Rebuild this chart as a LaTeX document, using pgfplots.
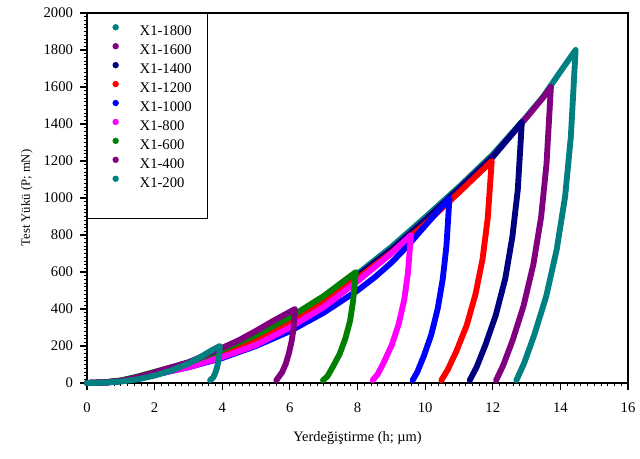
\documentclass[border=0pt]{standalone}
\usepackage{fontspec}
\setmainfont{Liberation Serif}
\usepackage{pgfplots}
\pgfplotsset{compat=1.18}
\definecolor{cTeal}{HTML}{008080}
\definecolor{cPurple}{HTML}{800080}
\definecolor{cNavy}{HTML}{000080}
\definecolor{cRed}{HTML}{FF0000}
\definecolor{cBlue}{HTML}{0000FF}
\definecolor{cMagenta}{HTML}{FF00FF}
\definecolor{cGreen}{HTML}{008000}

\begin{document}
\begin{tikzpicture}
\path[use as bounding box] (-65.25pt,-56.25pt) rectangle (414.75pt,287.25pt);
\begin{axis}[
  scale only axis,width=405.75pt,height=277.5pt,
  at={(0,0)},anchor=south west,
  xmin=0,xmax=16,ymin=0,ymax=2000,
  axis x line*=bottom,axis y line*=left,
  xtick={0,2,...,16},ytick={0,200,...,2000},
  minor x tick num=9,minor y tick num=9,
  tick align=outside,
  major tick length=5pt,minor tick length=2.5pt,
  major tick style={black,line width=0.8pt},
  minor tick style={black,line width=0.6pt},
  axis line style={line width=0.9pt},
  after end axis/.code={\draw[line width=0.9pt] (rel axis cs:0,1) -- (rel axis cs:1,1) -- (rel axis cs:1,0);},
  /pgf/number format/assume math mode=true,
  /pgf/number format/set thousands separator={},
  tick label style={font=\fontsize{11}{12}\selectfont},
  xticklabel style={yshift=-6.5pt},
  yticklabel style={xshift=-2pt},
  xlabel={Yerdeğiştirme (h; µm)},
  ylabel={Test Yükü (P; mN)},
  xlabel style={font=\fontsize{10.8}{12}\selectfont,at={(axis description cs:0.5,-0.149)},anchor=center},
  ylabel style={font=\fontsize{9.5}{11}\selectfont,at={(axis description cs:-0.111,0.5)},anchor=center},
  clip=false,
  every axis plot/.append style={line width=4.4pt,line cap=round,line join=round,mark=none},
  legend cell align=left,
  legend image code/.code={\path (0pt,0pt); \fill[#1,draw=none] (7pt,3.4pt) circle (2.4pt);},
  legend style={at={(0,1)},anchor=north west,draw=black,line width=0.6pt,
    font=\fontsize{11}{12}\selectfont,
    inner xsep=12pt,inner ysep=8pt,column sep=15.6pt,row sep=3.4pt,
    nodes={inner sep=0pt,text height=8pt,text depth=2pt}},
]
\addplot[cTeal] coordinates {
(0,0) (0.5,2) (1,10) (1.5,26) (2,50) (3,105) (4,172) (5,250) (6,342) (7,455)
(8,590) (9,735) (10,895) (11,1060) (12,1235) (13,1440) (13.5,1550) (14,1683) (14.45,1800)
(14.31,1332) (14.14,1008) (13.89,720) (13.58,468) (13.23,261) (12.93,108) (12.70,15)};
\addlegendentry{X1-1800}
\addplot[cPurple] coordinates {
(0,0) (0.5,3) (1,12) (1.5,30) (2,55) (3,110) (4,175) (5,250) (6,340) (7,450)
(8,580) (9,720) (10,880) (11,1050) (12,1225) (13,1435) (13.5,1545) (13.72,1600)
(13.59,1184) (13.43,896) (13.20,640) (12.91,416) (12.59,232) (12.31,96) (12.10,15)};
\addlegendentry{X1-1600}
\addplot[cNavy] coordinates {
(0,0) (0.5,3) (1,12) (1.5,30) (2,55) (3,110) (4,175) (5,250) (6,340) (7,450)
(8,580) (9,720) (10,880) (11,1050) (12,1222) (12.5,1330) (12.86,1410)
(12.74,1043) (12.58,790) (12.37,564) (12.09,367) (11.78,204) (11.52,85) (11.32,15)};
\addlegendentry{X1-1400}
\addplot[cRed] coordinates {
(0,0) (0.5,2) (1,10) (1.5,26) (2,50) (3,100) (4,165) (5,240) (6,330) (7,440)
(8,565) (9,705) (10,860) (11,1030) (11.97,1200)
(11.85,888) (11.70,672) (11.49,480) (11.23,312) (10.93,174) (10.67,72) (10.48,15)};
\addlegendentry{X1-1200}
\addplot[cBlue] coordinates {
(0,0) (0.5,2) (1,10) (1.5,24) (2,45) (3,85) (4,135) (5,200) (6,280) (7,380)
(8,500) (8.5,570) (9,650) (9.5,745) (10,850) (10.72,1000)
(10.63,740) (10.52,560) (10.37,400) (10.18,260) (9.96,145) (9.77,60) (9.63,15)};
\addlegendentry{X1-1000}
\addplot[cMagenta] coordinates {
(0,0) (0.5,2) (1,10) (1.5,25) (2,45) (3,85) (4,140) (5,205) (6,300) (7,410)
(8,550) (9,700) (9.58,800)
(9.49,592) (9.38,448) (9.22,320) (9.02,208) (8.79,116) (8.60,48) (8.45,15)};
\addlegendentry{X1-800}
\addplot[cGreen] coordinates {
(0,0) (0.5,3) (1,14) (1.5,35) (2,60) (3,110) (4,180) (5,260) (6,355) (7,470) (7.95,600)
(7.87,444) (7.78,336) (7.64,240) (7.47,156) (7.27,87) (7.11,36) (6.98,15)};
\addlegendentry{X1-600}
\addplot[cPurple] coordinates {
(0,0) (0.5,3) (1,12) (1.5,32) (2,58) (3,112) (4,190) (4.5,232) (5,282) (5.5,335) (6.15,400)
(6.11,296) (6.05,224) (5.97,160) (5.88,104) (5.77,58) (5.60,15)};
\addlegendentry{X1-400}
\addplot[cTeal] coordinates {
(0,0) (0.5,2) (1,8) (1.5,20) (2,40) (2.5,68) (3,105) (3.4,145) (3.7,178) (3.93,200)
(3.91,148) (3.88,112) (3.84,80) (3.79,52) (3.73,29) (3.64,15)};
\addlegendentry{X1-200}
\addlegendimage{empty legend}
\addlegendentry{}
\end{axis}
\end{tikzpicture}
\end{document}
